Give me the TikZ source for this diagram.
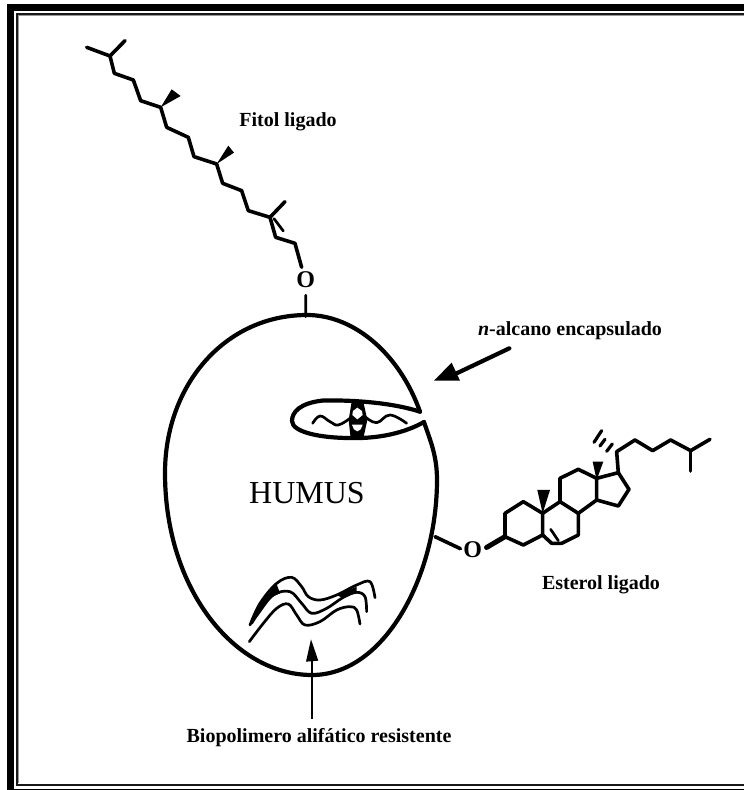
\documentclass[tikz,border=0pt]{standalone}
\usepackage{fontspec}
\setmainfont{Liberation Serif}
\tikzset{
  x=1pt,y=-1pt,
  bond/.style={line width=3.6pt,line join=round,line cap=round,black},
  thinbond/.style={line width=2.7pt,line join=round,line cap=round,black},
  wall/.style={line width=4.2pt,line join=round,line cap=round,black},
  lbl/.style={font=\bfseries\fontsize{20}{20}\selectfont,inner sep=0pt,text=black},
  atom/.style={font=\bfseries\fontsize{24}{24}\selectfont,inner sep=0pt,text=black},
  z1/.style={shift={(70,30)},x=.3333pt,y=-.3333pt},
  z2/.style={shift={(270,340)},x=.3333pt,y=-.3333pt},
  z3/.style={shift={(430,410)},x=.3333pt,y=-.3333pt},
  z4/.style={shift={(180,560)},x=.3333pt,y=-.3333pt},
  z7/.style={shift={(420,310)},x=.3333pt,y=-.3333pt},
}
\begin{document}
\begin{tikzpicture}
\useasboundingbox (0,0) rectangle (744,790);
% frame
\fill[black] (7,4) rectangle (744,11);
\fill[black] (7,4) rectangle (14,790);
\fill[black] (14,789) rectangle (744,790);
\draw[line width=2pt,black!90] (744,14) -- (17,14) -- (17,784.5) -- (744,784.5);
\draw[line width=1.2pt,black!40] (18.8,783) -- (18.8,15.6) -- (744,15.6);
% labels
\node[lbl] (fitol) at (288,122) {Fitol ligado};
\node[lbl] (alcano) at (570,331) {\textit{n}-alcano encapsulado};
\node[lbl] (esterol) at (601,585) {Esterol ligado};
\node[lbl] (biopol) at (319,738) {Biopolimero alifático resistente};
\node[font=\fontsize{32}{32}\selectfont,inner sep=0pt] (humus) at (307,493) {HUMUS};
\node[atom] (o1) at (305.7,280) {O};
\node[atom] (o2) at (472.7,550) {O};
% humus wall
\draw[wall] (420,411.7) .. controls (400,355) and (355,315) .. (307,315)
  .. controls (225,315) and (165,385) .. (165,473)
  .. controls (165,590) and (235,675) .. (312,675)
  .. controls (385,675) and (437,575) .. (437,480)
  .. controls (437,455) and (430,440) .. (424,422);
% pocket
\draw[wall] (420,411.7) .. controls (390,402) and (350,400) .. (323,400.5)
  .. controls (300,403) and (292,412) .. (292,421)
  .. controls (292,432) and (320,438) .. (350,438)
  .. controls (385,439) and (410,430) .. (424,422);
% n-alkane inside pocket
\begin{scope}[z2]
\draw[thinbond] plot[smooth,tension=.7] coordinates {(128,250) (150,228) (180,245) (205,255) (240,235)};
\draw[thinbond] plot[smooth,tension=.7] coordinates {(285,230) (320,248) (360,225) (410,250)};
\fill[black] (245,185) -- (280,185) -- (292,240) -- (280,295) -- (242,295) -- (236,240) -- cycle;
\fill[white] (262,203) -- (276,213) -- (278,225) -- (262,238) -- (247,225) -- (249,213) -- cycle;
\fill[white] (246,254) -- (278,254) -- (272,268) -- (262,274) -- (252,268) -- cycle;
\end{scope}
% phytol
\begin{scope}[z1]
\draw[bond] (50,52) -- (120,78) -- (165,32);
\draw[bond] (120,78) -- (133,130) -- (190,150) -- (212,212) -- (272,232) -- (290,292)
  -- (355,322) -- (372,380) -- (440,402) -- (458,460) -- (515,482) -- (535,542)
  -- (600,562) -- (617,622) -- (675,640) -- (695,712);
\draw[bond] (600,562) -- (645,515);
\draw[thinbond] (612,566) -- (640,603);
\fill[black] (272,232) -- (305,178) -- (332,198) -- cycle;
\fill[black] (440,402) -- (475,347) -- (492,368) -- cycle;
\coordinate (p2) at (707,860);
\end{scope}
\draw[thinbond,shorten <=7pt] (o1.south) -- (p2);
% sterol
\begin{scope}[z3]
\coordinate (s0) at (15,380);
\coordinate (a1) at (225,380);
\draw[bond,shorten >=3pt] (s0) -- (o2.west);
\draw[line width=5pt,line cap=round,shorten <=5pt] (o2.east) -- (a1);
\draw[bond] (a1) -- (225,310) -- (280,275) -- (338,310) -- (338,375) -- (280,405) -- cycle;
\draw[bond] (338,310) -- (390,275) -- (445,310) -- (445,375) -- (395,400) -- (365,400) -- (338,375);
\draw[bond] (390,275) -- (390,205) -- (445,178) -- (500,205) -- (500,270) -- (445,310);
\draw[bond] (500,205) -- (565,188) -- (597,238) -- (565,288) -- (500,270);
\draw[thinbond] (362,358) -- (385,392);
\fill[black] (338,310) -- (322,240) -- (360,240) -- cycle;
\fill[black] (500,210) -- (488,155) -- (520,155) -- cycle;
\draw[bond] (565,188) -- (560,125) -- (615,90) -- (668,122) -- (722,90) -- (782,122) -- (840,88);
\draw[bond] (782,122) -- (782,183);
\draw[thinbond,line width=3.2pt] (515,62) -- (492,97);
\draw[thinbond,line width=3.2pt] (525,88) -- (510,108);
\draw[thinbond,line width=3.2pt] (547,102) -- (530,124);
\end{scope}
% polymer
\begin{scope}[z4]
\fill[black] (210,195) -- (240,130) -- (290,72) -- (300,100) -- (265,115) -- (235,160) -- cycle;
\fill[black] (470,105) -- (530,80) -- (530,97) -- (490,115) -- cycle;
\draw[thinbond] plot[smooth,tension=.6] coordinates {(210,195) (240,130) (290,70) (335,52) (365,80) (385,110) (420,120) (470,105) (530,75) (570,65) (585,113)};
\draw[thinbond] plot[smooth,tension=.6] coordinates {(215,190) (235,160) (280,105) (330,95) (365,130) (395,160) (440,145) (490,112) (530,97) (555,110) (560,155)};
\draw[thinbond] plot[smooth,tension=.6] coordinates {(208,245) (250,190) (290,145) (325,132) (350,165) (375,195) (420,185) (470,150) (510,140) (530,150) (540,192)};
% arrow to polymer
\coordinate (b1) at (397,300);
\draw[line width=2pt,shorten <=10pt] (biopol.north -| b1) -- (b1);
\fill[black] (393,238) -- (415,302) -- (378,305) -- cycle;
\end{scope}
% arrow to pocket
\begin{scope}[z7]
\coordinate (n0) at (268,115);
\coordinate (n1) at (110,190);
\draw[line width=4.2pt,line cap=round] (n0) -- (n1);
\fill[black] (42,212) -- (95,158) -- (120,212) -- cycle;
\end{scope}
\end{tikzpicture}
\end{document}
